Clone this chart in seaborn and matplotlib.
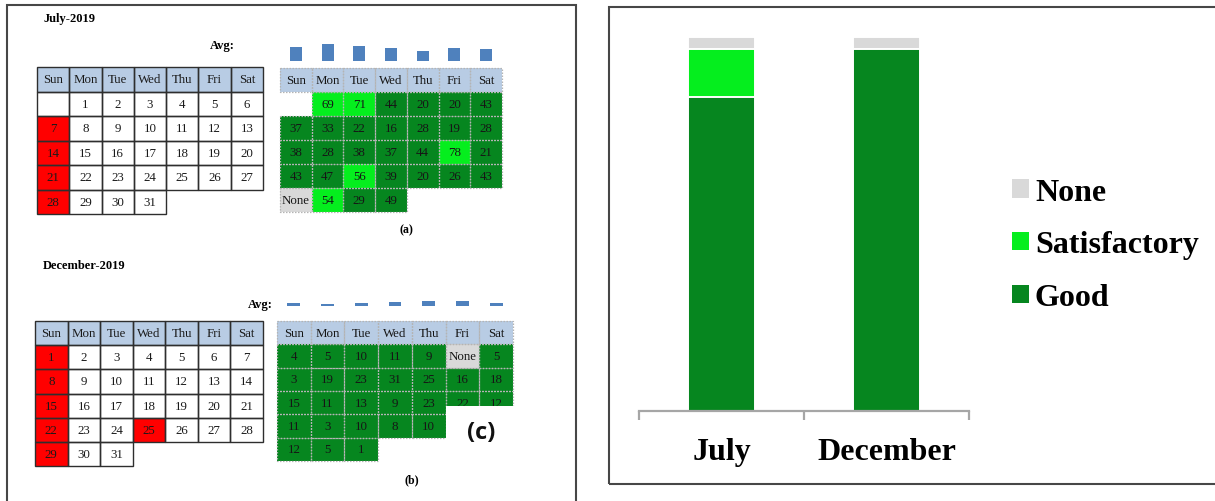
import numpy as np
import pandas as pd
import matplotlib
matplotlib.use("Agg")
import matplotlib.pyplot as plt
from matplotlib.colors import ListedColormap
from matplotlib.patches import Rectangle, Patch
import seaborn as sns

# ---------------------------------------------------------------- data
weekdays = ["Sun", "Mon", "Tue", "Wed", "Thu", "Fri", "Sat"]

july_days = [
    ["", 1, 2, 3, 4, 5, 6],
    [7, 8, 9, 10, 11, 12, 13],
    [14, 15, 16, 17, 18, 19, 20],
    [21, 22, 23, 24, 25, 26, 27],
    [28, 29, 30, 31, "", "", ""],
]
july_holidays = [7, 14, 21, 28]

dec_days = [
    [1, 2, 3, 4, 5, 6, 7],
    [8, 9, 10, 11, 12, 13, 14],
    [15, 16, 17, 18, 19, 20, 21],
    [22, 23, 24, 25, 26, 27, 28],
    [29, 30, 31, "", "", "", ""],
]
dec_holidays = [1, 8, 15, 22, 25, 29]

# daily AQI laid out by week; "None" = no reading, "" = no cell
july_aqi = [
    ["", 69, 71, 44, 20, 20, 43],
    [37, 33, 22, 16, 28, 19, 28],
    [38, 28, 38, 37, 44, 78, 21],
    [43, 47, 56, 39, 20, 26, 43],
    ["None", 54, 29, 49, "", "", ""],
]
dec_aqi = [
    [4, 5, 10, 11, 9, "None", 5],
    [3, 19, 23, 31, 25, 16, 18],
    [15, 11, 13, 9, 23, 22, 12],
    [11, 3, 10, 8, 10, "", ""],
    [12, 5, 1, "", "", "", ""],
]

months = ["July", "December"]
good_days = [26, 30]
satisfactory_days = [4, 0]
none_days = [1, 1]

# ---------------------------------------------------------------- style
HEADER = "#B8CCE4"
GOOD = "#06861F"
SAT = "#05EE1E"
NONE = "#D9D9D9"
RED = "#FF0000"
AVG = "#4F81BD"
FRAME = "#474747"

sns.set_theme(style="white")
plt.rcParams["font.family"] = ["Liberation Serif", "DejaVu Serif"]
plt.rcParams["text.color"] = "black"
plt.rcParams["xtick.color"] = "black"

W, H = 1215, 502
fig = plt.figure(figsize=(W / 100, H / 100), dpi=100)


def px_axes(x0, y0, x1, y1):
    """Axes placed by pixel box (origin top-left)."""
    return fig.add_axes([x0 / W, 1 - y1 / H, (x1 - x0) / W, (y1 - y0) / H])


def fig_text(x, y, s, **kw):
    kw.setdefault("va", "center")
    fig.text(x / W, 1 - y / H, s, **kw)


def outline_cells(ax, mask, **kw):
    for i, j in zip(*np.where(~mask)):
        ax.add_patch(Rectangle((j, i), 1, 1, fill=False, clip_on=False, **kw))


def draw_calendar(ax, days, holidays):
    rows = len(days) + 1
    codes = np.zeros((rows, 7), dtype=int)
    labels = np.empty((rows, 7), dtype=object)
    mask = np.zeros((rows, 7), dtype=bool)
    labels[0] = weekdays
    for i, week in enumerate(days, start=1):
        for j, d in enumerate(week):
            if d == "":
                labels[i, j] = ""
                codes[i, j] = 1
                # days past the end of the month have no cell at all
                mask[i, j] = i == rows - 1
            else:
                labels[i, j] = str(d)
                codes[i, j] = 2 if d in holidays else 1
    sns.heatmap(codes, mask=mask, cmap=ListedColormap([HEADER, "white", RED]),
                vmin=-0.5, vmax=2.5, annot=labels, fmt="", cbar=False,
                linewidths=0, xticklabels=False, yticklabels=False,
                annot_kws=dict(fontsize=9.3, color="#1a1a1a"), ax=ax)
    outline_cells(ax, mask, ec="#2e2e2e", lw=1.0, zorder=3)


def draw_aqi(ax, grid):
    rows = len(grid) + 1
    codes = np.zeros((rows, 7), dtype=int)
    labels = np.empty((rows, 7), dtype=object)
    mask = np.zeros((rows, 7), dtype=bool)
    labels[0] = weekdays
    for i, week in enumerate(grid, start=1):
        for j, v in enumerate(week):
            if v == "":
                labels[i, j] = ""
                mask[i, j] = True
            elif v == "None":
                labels[i, j] = "None"
                codes[i, j] = 3
            else:
                labels[i, j] = str(v)
                codes[i, j] = 1 if v <= 50 else 2
    sns.heatmap(codes, mask=mask, cmap=ListedColormap([HEADER, GOOD, SAT, NONE]),
                vmin=-0.5, vmax=3.5, annot=labels, fmt="", cbar=False,
                linewidths=0, xticklabels=False, yticklabels=False,
                annot_kws=dict(fontsize=9.3, color="#161616"), ax=ax)
    outline_cells(ax, mask, ec="#b4b4b4", lw=0.9, ls=(0, (1.2, 1.2)), zorder=3)


def weekday_means(grid):
    vals = np.array([[v if isinstance(v, (int, float)) else np.nan for v in week]
                     for week in grid], dtype=float)
    return np.nanmean(vals, axis=0)


def draw_avg(ax, grid, top):
    df = pd.DataFrame({"day": weekdays, "avg": weekday_means(grid)})
    sns.barplot(data=df, x="day", y="avg", order=weekdays, color=AVG,
                saturation=1, width=0.38, linewidth=0, ax=ax)
    ax.set_xlim(-0.5, 6.5)
    ax.set_ylim(0, top)
    ax.axis("off")


# ---------------------------------------------------------------- left panel
fig.add_artist(Rectangle((7 / W, -0.05), (575.5 - 7) / W, 1.05 - 6 / H,
                         transform=fig.transFigure, fill=False, ec=FRAME, lw=1.5))

fig_text(43, 19, "July-2019", fontsize=9, fontweight="bold")
fig_text(210, 46, "Avg:", fontsize=9, fontweight="bold")
draw_calendar(px_axes(37, 68, 263, 215), july_days, july_holidays)
draw_avg(px_axes(280, 38, 502, 62), july_aqi, 67)
draw_aqi(px_axes(280, 69, 502, 213), july_aqi)
fig_text(406, 230, "(a)", fontsize=8.5, fontweight="bold", ha="center")

fig_text(43, 266, "December-2019", fontsize=9, fontweight="bold")
fig_text(248, 305, "Avg:", fontsize=9, fontweight="bold")
draw_calendar(px_axes(35, 322, 263, 467), dec_days, dec_holidays)
draw_avg(px_axes(277, 287, 513, 307), dec_aqi, 71)
ax_dec = px_axes(277, 322, 513, 462)
draw_aqi(ax_dec, dec_aqi)
ax_dec.add_patch(Rectangle((5, 3.64), 2.3, 1.6, fc="white", ec="none",
                           zorder=6, clip_on=False))
ax_dec.text(6.07, 4.76, "(c)", fontsize=17, fontweight="bold", family="Open Sans",
            ha="center", va="center", zorder=7, color="#111111")
fig_text(412, 480, "(b)", fontsize=8.5, fontweight="bold", ha="center")

# ---------------------------------------------------------------- right panel
fig.add_artist(Rectangle((609 / W, 1 - 484.5 / H), (1218 - 609) / W, (484.5 - 8) / H,
                         transform=fig.transFigure, fill=False, ec=FRAME, lw=1.5))

bars = pd.DataFrame({
    "month": months,
    "good": good_days,
    "good_sat": np.add(good_days, satisfactory_days),
    "total": np.add(np.add(good_days, satisfactory_days), none_days),
})

ax = px_axes(639, 30, 969, 412)
for col, colour in [("total", NONE), ("good_sat", SAT), ("good", GOOD)]:
    sns.barplot(data=bars, x="month", y=col, order=months, color=colour,
                saturation=1, width=0.41, edgecolor="white", linewidth=1.4, ax=ax)
ax.set_xlim(-0.5, 1.5)
ax.set_ylim(0, 31.67)
sns.despine(ax=ax, left=True)
ax.spines["bottom"].set_color("#a6a6a6")
ax.spines["bottom"].set_linewidth(1.6)
ax.set_yticks([])
ax.set_xlabel("")
ax.set_ylabel("")
ax.set_xticks([0, 1])
ax.set_xticklabels(months, fontsize=23, fontweight="bold", color="black")
ax.set_xticks([-0.5, 0.5, 1.5], minor=True)
ax.tick_params(axis="x", which="major", bottom=True, length=0, pad=18.5)
ax.tick_params(axis="x", which="minor", bottom=True, length=6.5, width=1.6,
               color="#a6a6a6", direction="out")

handles = [Patch(facecolor=NONE, edgecolor="none", label="None"),
           Patch(facecolor=SAT, edgecolor="none", label="Satisfactory"),
           Patch(facecolor=GOOD, edgecolor="none", label="Good")]
leg = fig.legend(handles=handles, loc="center left",
                 bbox_to_anchor=(1012 / W, 1 - 246 / H), frameon=False,
                 prop={"family": "Liberation Serif", "weight": "bold", "size": 23},
                 handlelength=0.52, handleheight=0.5, handletextpad=0.2,
                 labelspacing=0.74, borderpad=0, borderaxespad=0)
for t in leg.get_texts():
    t.set_color("black")

fig.savefig("out.png", dpi=100, facecolor="white")
